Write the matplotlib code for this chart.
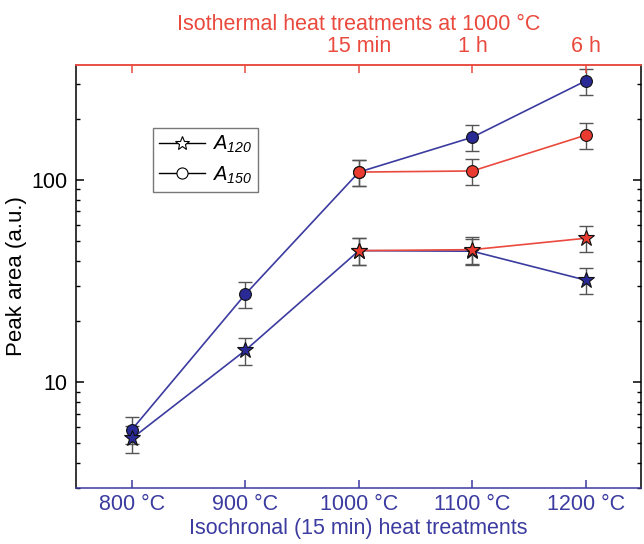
import numpy as np
import matplotlib.pyplot as plt
from matplotlib.ticker import FuncFormatter, NullFormatter, LogLocator

plt.rcParams["font.family"] = ["Liberation Sans", "DejaVu Sans"]
plt.rcParams["mathtext.fontset"] = "custom"
plt.rcParams["mathtext.it"] = "Liberation Sans:italic"
plt.rcParams["mathtext.rm"] = "Liberation Sans:italic"

## Data
temps = ["800 °C", "900 °C", "1000 °C", "1100 °C", "1200 °C"]
iso_labels = ["15 min", "1 h", "6 h"]
x_chron = np.arange(1, 6)
x_iso = np.array([3, 4, 5])

a150_chron = [5.84, 27.3, 109.6, 163, 310]
a120_chron = [5.28, 14.4, 44.8, 44.5, 32.0]
a150_iso = [109.6, 111, 167]
a120_iso = [44.8, 45.3, 51.6]
rel_err = 0.15

blue = "#3b3ba0"
blue_face = "#2a2a96"
red = "#ea4a3e"
red_face = "#ea3b30"
err_col = "#555555"
fs = 15.5

fig = plt.figure(figsize=(6.44, 5.44), dpi=100)
ax = fig.add_axes([0.118, 0.1029, 0.8773, 0.7776])


def series(x, y, line, face, marker, ms, z):
    y = np.asarray(y)
    ax.errorbar(x, y, yerr=rel_err * y, fmt="none", ecolor=err_col,
                elinewidth=1.0, capsize=5, capthick=1.0, zorder=z)
    ax.plot(x, y, "-", color=line, lw=1.2, zorder=z + 0.1)
    ax.plot(x, y, marker, ms=ms, mfc=face, mec="#111111", mew=0.8,
            ls="none", zorder=z + 0.2)


series(x_chron, a150_chron, blue, blue_face, "o", 8.5, 2)
series(x_chron, a120_chron, blue, blue_face, "*", 12, 2)
series(x_iso, a150_iso, red, red_face, "o", 8.5, 3)
series(x_iso, a120_iso, red, red_face, "*", 12, 3)

ax.set_yscale("log")
ax.set_ylim(3.0, 371)
ax.set_xlim(0.507, 5.485)

ax.yaxis.set_major_locator(LogLocator(base=10))
ax.yaxis.set_minor_locator(LogLocator(base=10, subs=np.arange(2, 10)))
ax.yaxis.set_major_formatter(FuncFormatter(lambda v, p: f"{v:g}"))
ax.yaxis.set_minor_formatter(NullFormatter())

ax.set_xticks(x_chron)
ax.set_xticklabels(temps)
ax.tick_params(axis="x", which="both", direction="in", length=5.5, width=1.1,
               colors=blue, labelsize=fs, pad=4.5, top=False)
ax.tick_params(axis="y", which="major", direction="in", length=5.5, width=1.1,
               labelsize=fs, right=True, pad=6)
ax.tick_params(axis="y", which="minor", direction="in", length=3,
               width=1.0, right=True)
ax.set_xlabel("Isochronal (15 min) heat treatments", color=blue, fontsize=fs,
              labelpad=2)
ax.set_ylabel("Peak area (a.u.)", fontsize=16)
ax.yaxis.set_label_coords(-0.087, 0.5)

for s in ["left", "right"]:
    ax.spines[s].set_linewidth(1.1)
    ax.spines[s].set_color("black")
ax.spines["bottom"].set_color(blue)
ax.spines["bottom"].set_linewidth(1.1)
ax.spines["top"].set_color(red)
ax.spines["top"].set_linewidth(1.1)

## Top axis for isothermal treatments
top = ax.twiny()
top.set_xlim(ax.get_xlim())
top.set_xticks(x_chron)
top.set_xticklabels(["", ""] + iso_labels)
top.tick_params(axis="x", direction="in", length=5.5, width=1.1, colors=red,
                labelsize=fs, pad=6)
top.set_xlabel("Isothermal heat treatments at 1000 °C", color=red,
               fontsize=fs, labelpad=4)
for s in top.spines.values():
    s.set_visible(False)
top.spines["top"].set_visible(True)
top.spines["top"].set_color(red)
top.spines["top"].set_linewidth(1.1)

## Legend
h1, = ax.plot([], [], "-", color="black", lw=1.0, marker="*", ms=10,
              mfc="white", mec="black", mew=0.8)
h2, = ax.plot([], [], "-", color="black", lw=1.0, marker="o", ms=8,
              mfc="white", mec="black", mew=0.8)
leg = ax.legend([h1, h2], [r"$A_{120}$", r"$A_{150}$"], loc="upper left",
                bbox_to_anchor=(0.136, 0.851), fontsize=14.5, frameon=True,
                fancybox=False, edgecolor="#555555", handlelength=2.3,
                handletextpad=0.35, borderpad=0.3, labelspacing=0.45,
                borderaxespad=0)
leg.get_frame().set_linewidth(1.0)

fig.savefig("out.png", dpi=100, facecolor="white")
